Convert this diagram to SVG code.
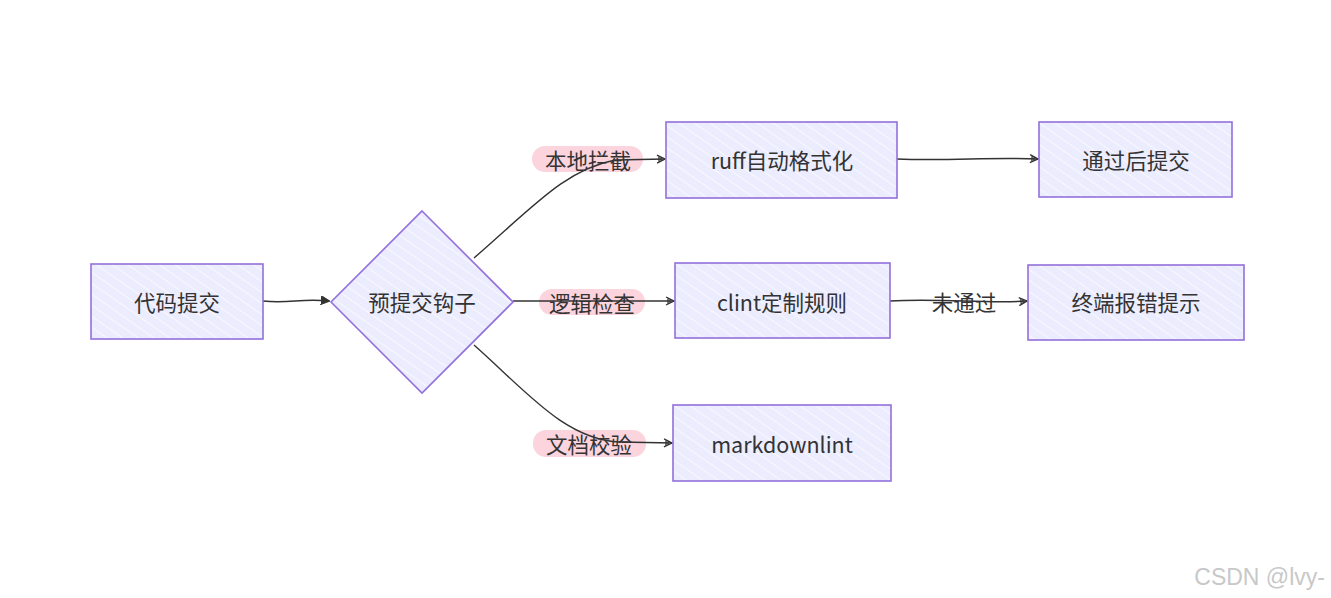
<svg xmlns="http://www.w3.org/2000/svg" width="1331" height="598" viewBox="0 0 1331 598">
<style>
.node{fill:url(#hach);stroke:#9370db;stroke-width:1.6}
.t{font-family:"Noto Sans CJK SC","Noto Sans",sans-serif;font-size:21.5px;fill:#333;text-anchor:middle;dominant-baseline:central}
.e{fill:none;stroke:#333;stroke-width:1.4}
.pill{fill:#fcd4de}
.wm{font-family:"Liberation Sans",Arial,sans-serif;font-size:23px;fill:#c8c8c8;text-anchor:end}
</style>
<defs>
<pattern id="hach" patternUnits="userSpaceOnUse" width="9" height="9" patternTransform="rotate(-55)">
<rect width="9" height="9" fill="#ececff"/>
<line x1="0" y1="0" x2="0" y2="9" stroke="#f8f8ff" stroke-width="2"/>
</pattern>
<marker id="af" viewBox="0 0 10 10" refX="9" refY="5" markerWidth="9" markerHeight="9" orient="auto" markerUnits="userSpaceOnUse">
<path d="M0,0 L10,5 L0,10 z" fill="#333" stroke="#333"/>
</marker>
<marker id="ao" viewBox="0 0 10 10" refX="9" refY="5" markerWidth="10" markerHeight="10" orient="auto" markerUnits="userSpaceOnUse">
<path d="M1,1 L9,5 L1,9 M3,2 L3,8 M5,3 L5,7" fill="none" stroke="#333" stroke-width="1.3"/>
</marker>
</defs>
<rect width="1331" height="598" fill="#fff"/>
<g id="edge-labels">
<g id="l1"><rect class="pill" x="532" y="146" width="111" height="26" rx="13"/><text class="t" x="588" y="159">本地拦截</text></g>
<g id="l2"><rect class="pill" x="539" y="289" width="106" height="26" rx="13"/><text class="t" x="592" y="302">逻辑检查</text></g>
<g id="l3"><rect class="pill" x="533" y="430" width="113" height="27" rx="13"/><text class="t" x="589" y="443">文档校验</text></g>
<g id="l4"><text class="t" x="964" y="301">未通过</text></g>
</g>
<g id="edges">
<path class="e" d="M263,301 C290,304 300,298 329,301" marker-end="url(#af)"/>
<path class="e" d="M474,258 C535,205 565,170 615,160 L665,159" marker-end="url(#ao)"/>
<path class="e" d="M513,301 L674,301" marker-end="url(#ao)"/>
<path class="e" d="M474,345 C525,390 565,440 620,442 L672,443" marker-end="url(#ao)"/>
<path class="e" d="M897,159 C950,161 990,157 1038,159" marker-end="url(#ao)"/>
<path class="e" d="M890,301 C940,298 990,304 1027,301" marker-end="url(#ao)"/>
</g>
<g id="n1"><rect class="node" x="91" y="264" width="172" height="75"/><text class="t" x="177" y="301">代码提交</text></g>
<g id="n2"><path class="node" d="M422,211 L513,302 L422,393 L331,302 Z"/><text class="t" x="422" y="301">预提交钩子</text></g>
<g id="n3"><rect class="node" x="666" y="122" width="231" height="76"/><text class="t" x="782" y="159">ruff自动格式化</text></g>
<g id="n4"><rect class="node" x="1039" y="122" width="193" height="75"/><text class="t" x="1136" y="159">通过后提交</text></g>
<g id="n5"><rect class="node" x="675" y="263" width="215" height="75"/><text class="t" x="782" y="301">clint定制规则</text></g>
<g id="n6"><rect class="node" x="1028" y="265" width="216" height="75"/><text class="t" x="1136" y="301">终端报错提示</text></g>
<g id="n7"><rect class="node" x="673" y="405" width="218" height="76"/><text class="t" x="782" y="443">markdownlint</text></g>
<text class="wm" x="1325" y="585">CSDN @lvy-</text>
</svg>
